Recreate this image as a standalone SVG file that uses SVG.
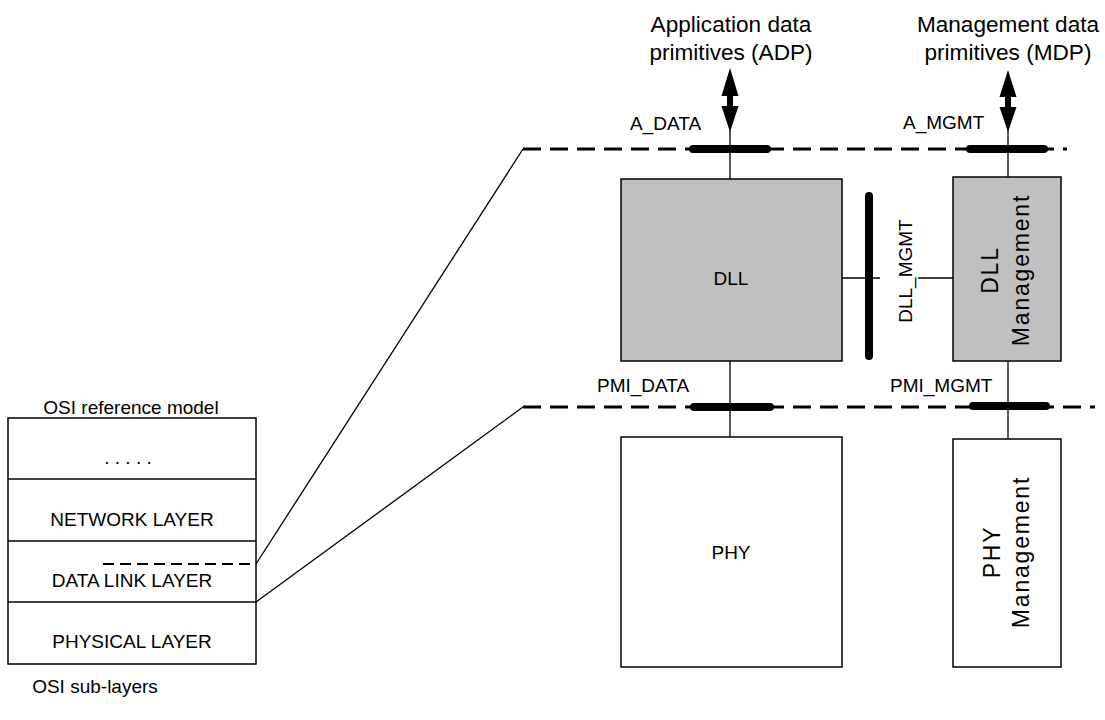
<svg xmlns="http://www.w3.org/2000/svg" width="1105" height="720" viewBox="0 0 1105 720">
<style>
text{font-family:"Liberation Sans",Arial,sans-serif;fill:#000}
.big{font-size:22.6px}
.lbl{font-size:19px}
.box{stroke:#000;stroke-width:1.5}
.gray{fill:#c0c0c0}
.white{fill:#fff}
.thin{stroke:#000;stroke-width:1.3;fill:none}
.dash{stroke:#000;stroke-width:3;stroke-dasharray:18 9;fill:none}
.bar{stroke:#000;stroke-width:8;stroke-linecap:round;fill:none}
.vt{font-size:23px;letter-spacing:1.8px}
</style>
<rect width="1105" height="720" fill="#fff"/>

<g id="dll">
  <rect class="box gray" x="621" y="179" width="221" height="182"/>
  <text class="lbl" x="731" y="285" text-anchor="middle">DLL</text>
</g>

<g id="dll-management">
  <rect class="box gray" x="953" y="177" width="108" height="184"/>
  <text class="vt" transform="translate(998,270) rotate(-90)" text-anchor="middle">DLL</text>
  <text class="vt" transform="translate(1028.5,270) rotate(-90)" text-anchor="middle">Management</text>
</g>

<g id="phy">
  <rect class="box white" x="621" y="437" width="221" height="230"/>
  <text class="lbl" x="731" y="559" text-anchor="middle">PHY</text>
</g>

<g id="phy-management">
  <rect class="box white" x="953" y="439" width="108" height="228"/>
  <text class="vt" transform="translate(999.5,552) rotate(-90)" text-anchor="middle">PHY</text>
  <text class="vt" transform="translate(1029,552) rotate(-90)" text-anchor="middle">Management</text>
</g>

<g id="osi-model">
  <text class="lbl" x="131" y="414" text-anchor="middle">OSI reference model</text>
  <rect class="box white" x="8" y="418" width="248" height="246"/>
  <line class="thin" x1="8" y1="479" x2="256" y2="479"/>
  <line class="thin" x1="8" y1="541" x2="256" y2="541"/>
  <line class="thin" x1="8" y1="602" x2="256" y2="602"/>
  <text class="lbl" x="128" y="464" text-anchor="middle">. . . . .</text>
  <text class="lbl" x="132" y="526" text-anchor="middle">NETWORK LAYER</text>
  <text class="lbl" x="132" y="587" text-anchor="middle">DATA LINK LAYER</text>
  <text class="lbl" x="132" y="648" text-anchor="middle">PHYSICAL LAYER</text>
  <text class="lbl" x="95" y="693" text-anchor="middle">OSI sub-layers</text>
</g>

<g id="labels">
  <text class="big" x="731" y="32" text-anchor="middle">Application data</text>
  <text class="big" x="731" y="60" text-anchor="middle">primitives (ADP)</text>
  <text class="big" x="1008" y="32" text-anchor="middle">Management data</text>
  <text class="big" x="1008" y="60" text-anchor="middle">primitives (MDP)</text>
  <text class="lbl" x="630" y="130">A_DATA</text>
  <text class="lbl" x="903" y="129">A_MGMT</text>
  <text class="lbl" x="597" y="392">PMI_DATA</text>
  <text class="lbl" x="890" y="392">PMI_MGMT</text>
  <text class="lbl" transform="translate(911.5,271) rotate(-90)" text-anchor="middle">DLL_MGMT</text>
</g>

<g id="connectors">
  <line class="dash" x1="523" y1="149" x2="1067" y2="149"/>
  <line class="dash" x1="523" y1="407" x2="1095" y2="407"/>
  <line class="thin" x1="256" y1="564" x2="523" y2="149"/>
  <line class="thin" x1="256" y1="602" x2="523" y2="407"/>
  <line x1="103" y1="564" x2="256" y2="564" stroke="#000" stroke-width="2.2" stroke-dasharray="11 6"/>
  <line class="thin" x1="730" y1="130" x2="730" y2="179"/>
  <line class="thin" x1="730" y1="361" x2="730" y2="437"/>
  <line class="thin" x1="1008" y1="130" x2="1008" y2="177"/>
  <line class="thin" x1="1008" y1="361" x2="1008" y2="439"/>
  <line class="thin" x1="842" y1="278" x2="880" y2="278"/>
  <line class="thin" x1="918" y1="278" x2="953" y2="278"/>
  <line class="bar" x1="693" y1="149" x2="767" y2="149"/>
  <line class="bar" x1="970" y1="149" x2="1044" y2="149"/>
  <line class="bar" x1="694" y1="407" x2="770" y2="407"/>
  <line class="bar" x1="973" y1="406" x2="1046" y2="406"/>
  <line class="bar" x1="869" y1="196" x2="869" y2="356"/>
  <path d="M730 68 L738.5 96 L733 96 L733 106 L738.5 106 L730 132 L721.5 106 L727 106 L727 96 L721.5 96 Z" fill="#000"/>
  <path d="M1008 70 L1016.5 97 L1011 97 L1011 107 L1016.5 107 L1008 132 L999.5 107 L1005 107 L1005 97 L999.5 97 Z" fill="#000"/>
</g>
</svg>
